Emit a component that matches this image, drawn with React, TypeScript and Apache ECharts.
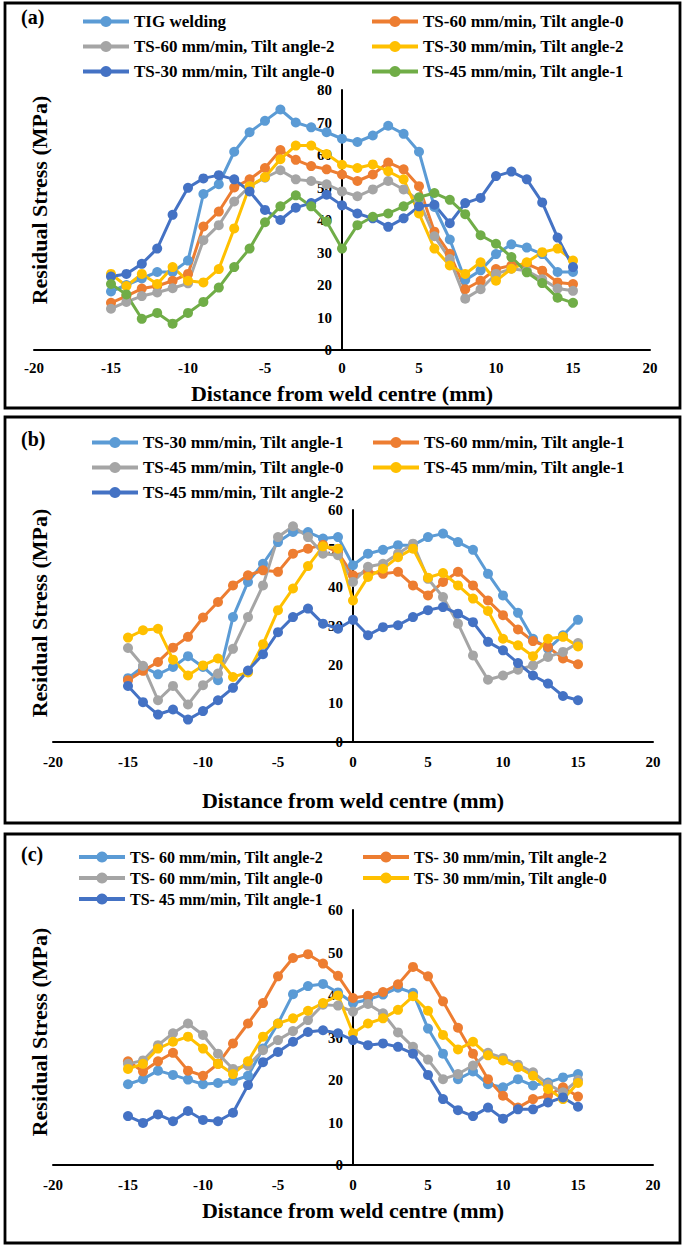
import React, { useEffect, useRef } from "react";
import * as echarts from "echarts";

const FONT = "Liberation Serif, Times New Roman, serif";

const distance = [-15, -14, -13, -12, -11, -10, -9, -8, -7, -6, -5, -4, -3, -2, -1, 0, 1, 2, 3, 4, 5, 6, 7, 8, 9, 10, 11, 12, 13, 14, 15];
const xTicks = { min: -20, max: 20, interval: 5 };

// Panel (a)
const aTig = [18, 20, 22, 24, 24, 27.5, 48, 51, 61, 67, 70.5, 74, 70, 68.5, 67, 65, 64, 66, 69, 66.5, 61, 44, 34, 21.5, 24.5, 29.5, 32.5, 31.5, 29.5, 24, 24];
const aTs60t0 = [14.5, 16.6, 18.9, 19.7, 21.3, 23.4, 38, 42.6, 50, 52.5, 56, 61.5, 58.5, 56.6, 55.6, 54, 52, 54, 57.7, 55.6, 50.4, 36.4, 29.6, 18.7, 21.3, 24.9, 26, 26.5, 24.4, 20.8, 20.3];
const aTs60t2 = [12.7, 14.8, 16.6, 17.7, 19, 20.5, 33.8, 38.4, 45.7, 50.4, 53, 55.3, 52.5, 52, 51, 48.8, 47.3, 49.4, 52, 49.4, 46, 35, 28, 15.8, 18.7, 23.4, 25, 24.4, 21.8, 18.9, 18.2];
const aTs30t2 = [23.4, 19.7, 23.4, 20.3, 25.5, 21.3, 20.8, 24.9, 37.4, 50.4, 53.2, 58.7, 62.9, 62.9, 60.3, 57, 56, 57.1, 55, 52.5, 42, 31.2, 26, 23.4, 27, 21.3, 25, 27, 30.1, 31.2, 27.5];
const aTs30t0 = [22.6, 23.4, 26.5, 31.2, 41.6, 49.9, 52.8, 53.8, 52.5, 48.8, 43.1, 40, 43.8, 45.2, 47.8, 44.5, 42, 40.5, 37.9, 40.5, 44.2, 44.7, 39, 45.2, 46.8, 53.5, 54.9, 52.5, 45.4, 34.6, 25.5];
const aTs45t1 = [20.3, 17.1, 9.6, 11.4, 8.1, 11.4, 14.8, 19.2, 25.5, 31.2, 39.3, 44.2, 47.6, 44.2, 39.5, 31.2, 38.4, 41, 42, 44.2, 47, 48.3, 46.2, 41.8, 35.3, 32.7, 28.6, 23.9, 20.6, 16.1, 14.5];

// Panel (b)
const bTs30t1 = [16.5, 19.5, 17.5, 19.4, 22.2, 19.4, 16, 32.3, 41.4, 46.1, 51.7, 54.3, 54.3, 52.6, 53, 45.7, 48.7, 49.7, 50.9, 50.9, 53, 53.9, 51.7, 49.7, 43.5, 37.9, 33.4, 26.7, 24.1, 27.6, 31.6];
const bTs60t1 = [16, 18.4, 20.7, 24.4, 27.2, 32.2, 36.2, 40.5, 43.1, 44.4, 44, 48.7, 50, 51, 49, 43.1, 44, 43.5, 44, 40.5, 37.9, 41.4, 44, 40.5, 36.6, 32.8, 29.1, 26.1, 24.6, 21.6, 20.1];
const bTs45t0 = [24.3, 19.7, 10.8, 14.5, 9.7, 14.7, 17.7, 24.1, 32.3, 40.5, 53, 55.8, 53, 48.7, 48.3, 41.4, 45.3, 46.1, 48.7, 51.3, 42.2, 37.5, 30.6, 22.4, 16.1, 17.2, 18.7, 19.8, 22, 23.3, 25.6];
const bTs45t1 = [27, 28.9, 29.3, 21.3, 17.2, 19.8, 21.6, 16.8, 18, 25.3, 34.1, 39.7, 45.5, 50.6, 50, 36.6, 42.7, 44.8, 47.8, 50, 42.5, 43.7, 40.5, 37.1, 33.9, 26.7, 25, 22.2, 26.7, 27.2, 24.7];
const bTs45t2 = [14.5, 10.3, 7.1, 8.4, 5.8, 8, 10.8, 14, 18.5, 22.7, 28.4, 32.3, 34.5, 30.6, 29.3, 31.6, 27.6, 29.7, 30.2, 32.3, 34.1, 34.9, 33.2, 31, 25.9, 23.7, 20.4, 17.2, 15.1, 11.9, 10.8];

// Panel (c)
const cTs60t2 = [19, 20.2, 22.2, 21.2, 20.1, 19, 19.3, 19.8, 21, 27.4, 33.3, 40.2, 42.1, 42.6, 40.6, 38.1, 38.9, 40.1, 41.7, 40.5, 32.1, 26.2, 20.2, 22, 19, 18.3, 20.2, 18.7, 19.4, 20.6, 21.4];
const cTs30t2 = [24.4, 22, 24.4, 26.4, 22.2, 21, 23.8, 28.6, 33.3, 38.1, 44.4, 48.7, 49.6, 47.4, 44.5, 39.3, 39.8, 40.7, 42.5, 46.6, 44.4, 38.5, 32.3, 26.2, 20.2, 16.3, 13.5, 15.5, 16.3, 18.3, 16.1];
const cTs60t0 = [23.8, 24.6, 28.2, 31, 33.3, 30.6, 26.2, 22.6, 23.4, 27, 29.4, 31.5, 34.1, 37.7, 37.5, 36.1, 37.9, 35.7, 31.2, 27.8, 24.8, 20.2, 21.4, 23.4, 26.4, 25.2, 23.6, 21.8, 19, 17.1, 20];
const cTs30t0 = [22.6, 23.8, 27.4, 29, 30.2, 27.4, 23.8, 21.4, 24.4, 30.2, 33.3, 34.5, 36.3, 38.1, 39.9, 31, 33.3, 34.5, 36.5, 39.7, 36.3, 30.6, 27.2, 29, 25.8, 24.6, 23, 21, 17.9, 15.5, 19.3];
const cTs45t1 = [11.5, 9.9, 11.9, 10.3, 12.7, 10.6, 10.3, 12.3, 18.8, 24.2, 26.6, 29, 31.3, 31.7, 31, 29.4, 28.2, 28.6, 27.8, 26.2, 21.2, 15.5, 12.9, 11.5, 13.5, 10.9, 13.1, 13.1, 14.7, 15.9, 13.7];

const COLORS = {
  lightBlue: "#5B9BD5",
  orange: "#ED7D31",
  gray: "#A5A5A5",
  yellow: "#FFC000",
  darkBlue: "#4472C4",
  green: "#70AD47",
};

type S = { name: string; color: string; values: number[] };

type Panel = {
  label: string;
  top: number;
  height: number;
  box: [number, number, number, number];
  labelY: number;
  legendTop: number;
  legendGap: number;
  legendFont: number;
  col1: { left: number; names: string[] };
  col2: { left: number; names: string[] };
  grid: { left: number; right: number; top: number; bottom: number };
  yMax: number;
  yTitleY: number;
  xLabelMargin: number;
  xNameGap: number;
  series: S[];
};

const panels: Panel[] = [
  {
    label: "(a)",
    top: 0,
    height: 414,
    box: [5, 3, 675, 405],
    labelY: 17,
    legendTop: 8,
    legendGap: 8,
    legendFont: 17,
    col1: { left: 76, names: ["TIG welding", "TS-60 mm/min, Tilt angle-2", "TS-30 mm/min, Tilt angle-0"] },
    col2: { left: 365, names: ["TS-60 mm/min, Tilt angle-0", "TS-30 mm/min, Tilt angle-2", "TS-45 mm/min, Tilt angle-1"] },
    grid: { left: 34, right: 35, top: 90, bottom: 64 },
    yMax: 80,
    yTitleY: 200,
    xLabelMargin: 10,
    xNameGap: 32,
    series: [
      { name: "TIG welding", color: COLORS.lightBlue, values: aTig },
      { name: "TS-60 mm/min, Tilt angle-0", color: COLORS.orange, values: aTs60t0 },
      { name: "TS-60 mm/min, Tilt angle-2", color: COLORS.gray, values: aTs60t2 },
      { name: "TS-30 mm/min, Tilt angle-2", color: COLORS.yellow, values: aTs30t2 },
      { name: "TS-30 mm/min, Tilt angle-0", color: COLORS.darkBlue, values: aTs30t0 },
      { name: "TS-45 mm/min, Tilt angle-1", color: COLORS.green, values: aTs45t1 },
    ],
  },
  {
    label: "(b)",
    top: 414,
    height: 416,
    box: [5, 3, 675, 406],
    labelY: 25,
    legendTop: 15,
    legendGap: 8,
    legendFont: 17,
    col1: { left: 85, names: ["TS-30 mm/min, Tilt angle-1", "TS-45 mm/min, Tilt angle-0", "TS-45 mm/min, Tilt angle-2"] },
    col2: { left: 366, names: ["TS-60 mm/min, Tilt angle-1", "TS-45 mm/min, Tilt angle-1"] },
    grid: { left: 53, right: 32, top: 96, bottom: 88 },
    yMax: 60,
    yTitleY: 199,
    xLabelMargin: 12,
    xNameGap: 47,
    series: [
      { name: "TS-30 mm/min, Tilt angle-1", color: COLORS.lightBlue, values: bTs30t1 },
      { name: "TS-60 mm/min, Tilt angle-1", color: COLORS.orange, values: bTs60t1 },
      { name: "TS-45 mm/min, Tilt angle-0", color: COLORS.gray, values: bTs45t0 },
      { name: "TS-45 mm/min, Tilt angle-1", color: COLORS.yellow, values: bTs45t1 },
      { name: "TS-45 mm/min, Tilt angle-2", color: COLORS.darkBlue, values: bTs45t2 },
    ],
  },
  {
    label: "(c)",
    top: 830,
    height: 416,
    box: [5, 4, 675, 409],
    labelY: 24,
    legendTop: 14,
    legendGap: 5,
    legendFont: 16,
    col1: { left: 72, names: ["TS- 60 mm/min, Tilt angle-2", "TS- 60 mm/min, Tilt angle-0", "TS- 45 mm/min, Tilt angle-1"] },
    col2: { left: 356, names: ["TS- 30 mm/min, Tilt angle-2", "TS- 30 mm/min, Tilt angle-0"] },
    grid: { left: 53, right: 32, top: 80, bottom: 81 },
    yMax: 60,
    yTitleY: 202,
    xLabelMargin: 12,
    xNameGap: 34,
    series: [
      { name: "TS- 60 mm/min, Tilt angle-2", color: COLORS.lightBlue, values: cTs60t2 },
      { name: "TS- 30 mm/min, Tilt angle-2", color: COLORS.orange, values: cTs30t2 },
      { name: "TS- 60 mm/min, Tilt angle-0", color: COLORS.gray, values: cTs60t0 },
      { name: "TS- 30 mm/min, Tilt angle-0", color: COLORS.yellow, values: cTs30t0 },
      { name: "TS- 45 mm/min, Tilt angle-1", color: COLORS.darkBlue, values: cTs45t1 },
    ],
  },
];

function legendCfg(left: number, top: number, gap: number, font: number, names: string[]) {
  return {
    orient: "vertical",
    left,
    top,
    itemGap: gap,
    itemWidth: 46,
    itemHeight: 14,
    data: names,
    selectedMode: false,
    lineStyle: { width: 4 },
    textStyle: { fontFamily: FONT, fontWeight: "bold", fontSize: font, color: "#000" },
  };
}

function buildOption(p: Panel) {
  const labelStyle = { color: "#000", fontFamily: FONT, fontWeight: "bold", fontSize: 15 };
  const plotWidth = 685 - p.grid.left - p.grid.right;
  // pixel distance from the grid's left edge to x = 0
  const zeroOffset = (plotWidth * (0 - xTicks.min)) / (xTicks.max - xTicks.min);
  return {
    animation: false,
    backgroundColor: "#fff",
    graphic: [
      {
        type: "rect",
        shape: { x: p.box[0], y: p.box[1], width: p.box[2], height: p.box[3] },
        style: { fill: "none", stroke: "#000", lineWidth: 2.8 },
        silent: true,
      },
      {
        type: "text",
        x: 21,
        y: p.labelY,
        style: { text: p.label, font: `bold 20px ${FONT}`, fill: "#000", textVerticalAlign: "middle", verticalAlign: "middle" },
      },
      {
        type: "text",
        x: 39,
        y: p.yTitleY,
        rotation: Math.PI / 2,
        style: {
          text: "Residual Stress (MPa)",
          font: `bold 22px ${FONT}`,
          fill: "#000",
          textAlign: "center",
          align: "center",
          textVerticalAlign: "middle",
          verticalAlign: "middle",
        },
      },
    ],
    legend: [
      legendCfg(p.col1.left, p.legendTop, p.legendGap, p.legendFont, p.col1.names),
      legendCfg(p.col2.left, p.legendTop, p.legendGap, p.legendFont, p.col2.names),
    ],
    grid: { ...p.grid, containLabel: false },
    xAxis: {
      type: "value",
      min: xTicks.min,
      max: xTicks.max,
      interval: xTicks.interval,
      name: "Distance from weld centre (mm)",
      nameLocation: "middle",
      nameGap: p.xNameGap,
      nameTextStyle: { color: "#000", fontFamily: FONT, fontWeight: "bold", fontSize: 22 },
      axisLine: { onZero: false, lineStyle: { color: "#000", width: 2 } },
      axisTick: { show: false },
      splitLine: { show: false },
      axisLabel: { ...labelStyle, margin: p.xLabelMargin },
    },
    yAxis: {
      type: "value",
      min: 0,
      max: p.yMax,
      interval: 10,
      position: "left",
      offset: -zeroOffset,
      axisLine: { show: true, onZero: false, lineStyle: { color: "#000", width: 2 } },
      axisTick: { show: false },
      splitLine: { show: false },
      axisLabel: { ...labelStyle, margin: 10 },
    },
    series: p.series.map((s) => ({
      name: s.name,
      type: "line",
      data: distance.map((d, i) => [d, s.values[i]]),
      symbol: "circle",
      symbolSize: 10,
      showAllSymbol: true,
      color: s.color,
      itemStyle: { color: s.color },
      lineStyle: { color: s.color, width: 3 },
      emphasis: { disabled: true },
    })),
  };
}

function PanelChart({ p }: { p: Panel }) {
  const ref = useRef<HTMLDivElement>(null);
  useEffect(() => {
    if (!ref.current) return;
    const chart = echarts.init(ref.current, undefined, { renderer: "svg" });
    chart.setOption(buildOption(p) as any);
    return () => chart.dispose();
  }, [p]);
  return (
    <div
      ref={ref}
      style={{ position: "absolute", left: 0, top: p.top, width: 685, height: p.height }}
    />
  );
}

export default function App() {
  return (
    <div style={{ position: "absolute", left: 0, top: 0, width: 685, height: 1246, background: "#fff" }}>
      {panels.map((p) => (
        <PanelChart key={p.label} p={p} />
      ))}
    </div>
  );
}
